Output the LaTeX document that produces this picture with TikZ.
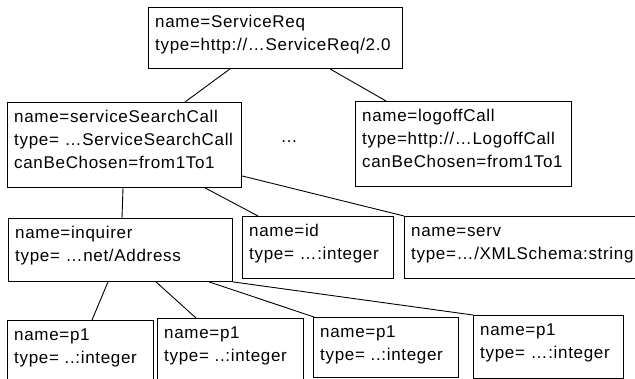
\documentclass[tikz,border=0pt]{standalone}
\usepackage{fontspec}
\setmainfont[LetterSpace=4]{Liberation Sans}
\usetikzlibrary{calc}
\tikzset{
  boxshape/.style={draw, line width=0.9pt, inner sep=0pt, anchor=north west},
  boxtext/.style={inner sep=0pt, anchor=base west, align=left, text width=300pt,
    font=\fontsize{17}{23}\selectfont},
  conn/.style={line width=0.9pt},
}
\newcommand{\mybox}[6]{%
  \node[boxshape, minimum width={#4-#2}, minimum height={#5-#3}] (#1) at (#2,-#3) {};
  \node[boxtext] (#1t) at ($(#1.north west)+(7,-21)$) {#6};
}
\begin{document}
\begin{tikzpicture}[x=1pt,y=1pt]
\useasboundingbox (0,0) rectangle (635,-379);
\clip (0,0) rectangle (635,-379);
\mybox{top}{148}{7}{402}{68}{name=ServiceReq\\type=http://…ServiceReq/2.0}
\mybox{ssc}{7}{102}{241}{187}{name=serviceSearchCall\\type= …ServiceSearchCall\\canBeChosen=from1To1}
\mybox{logoff}{355}{101}{571}{186}{name=logoffCall\\type=http://…LogoffCall\\canBeChosen=from1To1}
\mybox{inq}{8}{218}{232}{281}{name=inquirer\\type= …net/Address}
\mybox{id}{242}{216}{393}{278}{name=id\\type= …:integer}
\mybox{serv}{404}{216}{645}{278}{name=serv\\type=…/XMLSchema:string}
\mybox{pa}{7}{320}{153}{382}{name=p1\\type= ..:integer}
\mybox{pb}{157}{318}{303}{382}{name=p1\\type= ..:integer}
\mybox{pc}{313}{317}{458}{377}{name=p1\\type= ..:integer}
\mybox{pd}{473}{315}{623}{378}{name=p1\\type= …:integer}
\node[inner sep=0pt, anchor=base, font=\fontsize{17}{23}\selectfont] (dots) at (289,-143) {…};
\draw[conn] ($(top.south west)+(82,0)$) -- ($(ssc.north west)+(178,0)$);
\draw[conn] ($(top.south west)+(182,0)$) -- ($(logoff.north west)+(31,0)$);
\draw[conn] ($(ssc.south west)+(116,0)$) -- ($(inq.north west)+(114,0)$);
\draw[conn] ($(ssc.south west)+(198,0)$) -- ($(id.north west)+(16,0)$);
\draw[conn] ($(ssc.south east)+(0,12)$) -- (serv.north west);
\draw[conn] ($(inq.south west)+(100,0)$) -- ($(pa.north west)+(85,0)$);
\draw[conn] ($(inq.south west)+(148,0)$) -- ($(pb.north west)+(39,0)$);
\draw[conn] ($(inq.south west)+(201,0)$) -- ($(pc.north west)+(1,0)$);
\draw[conn] (inq.south east) -- (pd.north west);
\end{tikzpicture}
\end{document}
